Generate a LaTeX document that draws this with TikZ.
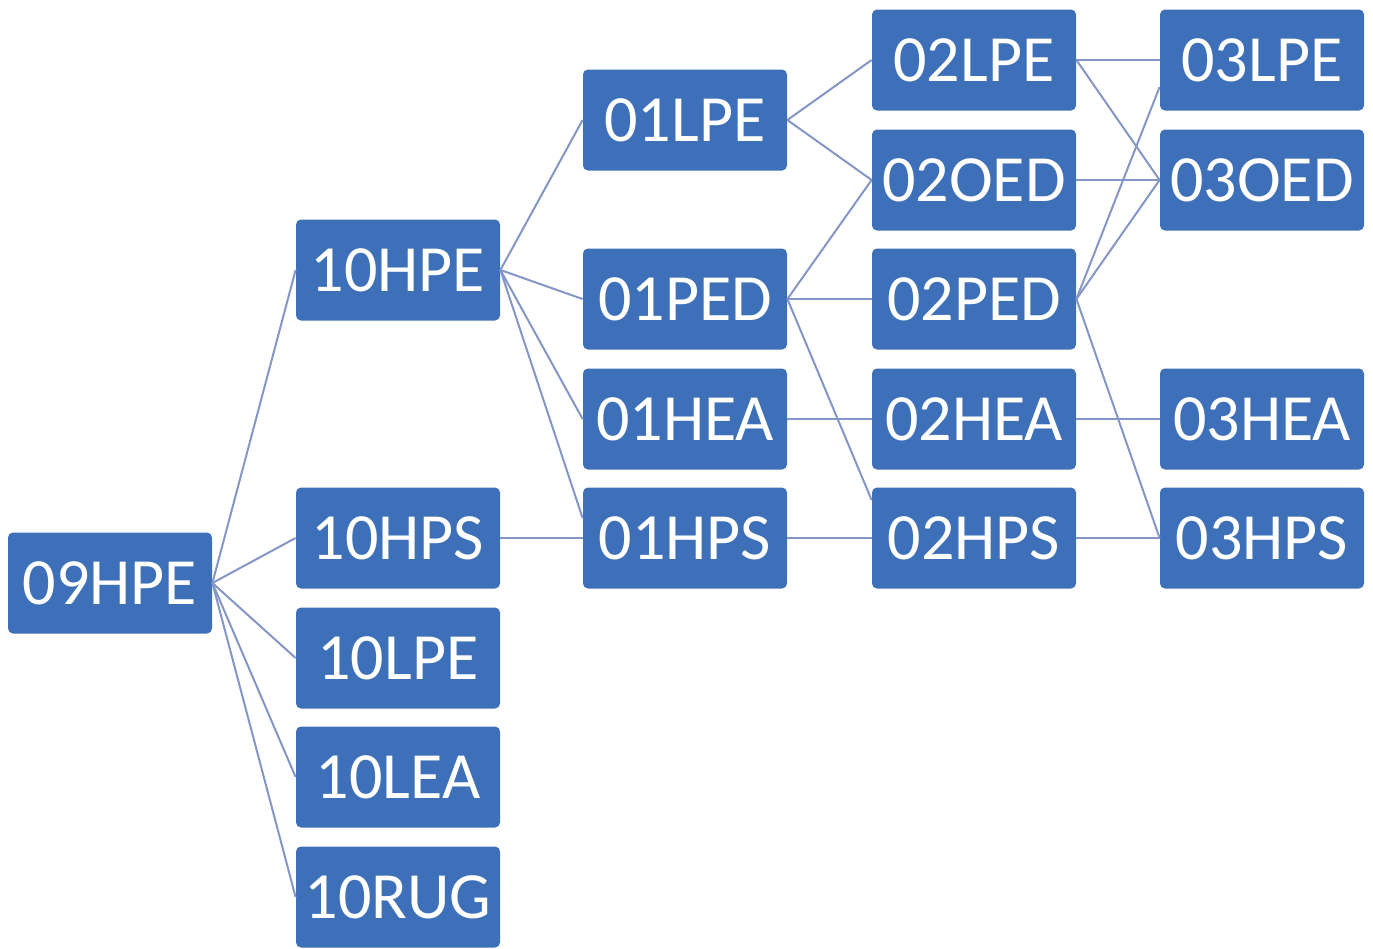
\documentclass[tikz,border=0pt]{standalone}
\usepackage{fontspec}
\setmainfont{Carlito}
\definecolor{boxblue}{RGB}{62,112,186}
\definecolor{linkblue}{RGB}{132,150,198}
\tikzset{
  unit/.style={rectangle, rounded corners=2.5pt, fill=boxblue, text=white,
    minimum width=102pt, minimum height=50.5pt, inner sep=0pt,
    font=\fontsize{33pt}{36pt}\selectfont},
  link/.style={draw=linkblue, line width=1pt}
}
\begin{document}
\begin{tikzpicture}[x=0.5pt,y=-0.5pt]
\useasboundingbox (0,0) rectangle (1373,949);
% column 0
\node[unit] (a09HPE) at (110,583) {09HPE};
% column 1
\node[unit] (a10HPE) at (398,270) {10HPE};
\node[unit] (a10HPS) at (398,538) {10HPS};
\node[unit] (a10LPE) at (398,658) {10LPE};
\node[unit] (a10LEA) at (398,777) {10LEA};
\node[unit] (a10RUG) at (398,897) {10RUG};
% column 2
\node[unit] (a01LPE) at (685,120) {01LPE};
\node[unit] (a01PED) at (685,299) {01PED};
\node[unit] (a01HEA) at (685,419) {01HEA};
\node[unit] (a01HPS) at (685,538) {01HPS};
% column 3
\node[unit] (a02LPE) at (974,60) {02LPE};
\node[unit] (a02OED) at (974,180) {02OED};
\node[unit] (a02PED) at (974,299) {02PED};
\node[unit] (a02HEA) at (974,419) {02HEA};
\node[unit] (a02HPS) at (974,538) {02HPS};
% column 4
\node[unit] (a03LPE) at (1262,60) {03LPE};
\node[unit] (a03OED) at (1262,180) {03OED};
\node[unit] (a03HEA) at (1262,419) {03HEA};
\node[unit] (a03HPS) at (1262,538) {03HPS};
% links
\foreach \t in {a10HPE,a10HPS,a10LPE,a10LEA,a10RUG}
  \draw[link] (a09HPE.east) -- (\t.west);
\foreach \t in {a01LPE,a01PED,a01HEA}
  \draw[link] (a10HPE.east) -- (\t.west);
\draw[link] (a10HPE.east) -- ([yshift=10pt]a01HPS.west);
\draw[link] (a10HPS.east) -- (a01HPS.west);
\draw[link] (a01LPE.east) -- (a02LPE.west);
\draw[link] (a01LPE.east) -- (a02OED.west);
\draw[link] (a01PED.east) -- (a02OED.west);
\draw[link] (a01PED.east) -- (a02PED.west);
\draw[link] (a01PED.east) -- ([yshift=19pt]a02HPS.west);
\draw[link] (a01HEA.east) -- (a02HEA.west);
\draw[link] (a01HPS.east) -- (a02HPS.west);
\draw[link] (a02LPE.east) -- (a03LPE.west);
\draw[link] (a02LPE.east) -- (a03OED.west);
\draw[link] (a02OED.east) -- (a03OED.west);
\draw[link] (a02PED.east) -- ([yshift=-13.5pt]a03LPE.west);
\draw[link] (a02PED.east) -- (a03OED.west);
\draw[link] (a02PED.east) -- (a03HPS.west);
\draw[link] (a02HEA.east) -- (a03HEA.west);
\draw[link] (a02HPS.east) -- (a03HPS.west);
\end{tikzpicture}
\end{document}
